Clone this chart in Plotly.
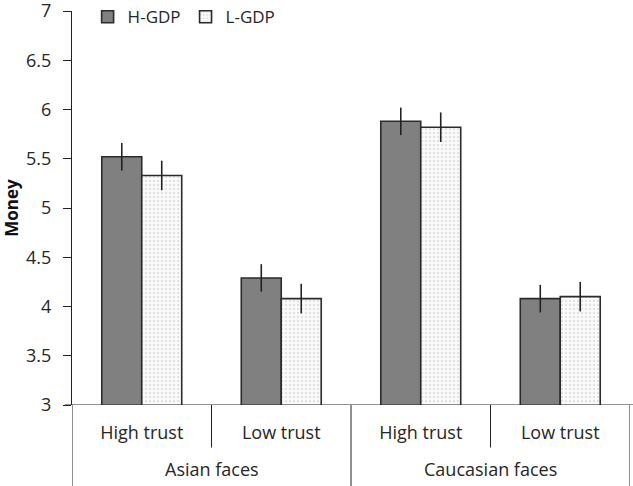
import plotly.graph_objects as go

faces = ["Asian faces", "Caucasian faces"]
trust = ["High trust", "Low trust", "High trust", "Low trust"]
h_gdp = [5.52, 4.29, 5.88, 4.08]
h_err = [0.14, 0.14, 0.14, 0.14]
l_gdp = [5.33, 4.08, 5.82, 4.10]
l_err = [0.15, 0.15, 0.15, 0.15]
y_ticks = [3, 3.5, 4, 4.5, 5, 5.5, 6, 6.5, 7]

xpos = list(range(len(trust)))
FONT = "Open Sans"
FS = 18
EDGE = "#2b2b2b"
TXT = "#262626"

fig = go.Figure()
fig.add_trace(go.Bar(
    name="H-GDP", x=xpos, y=h_gdp,
    marker=dict(color="#808080", line=dict(color=EDGE, width=1.6)),
    error_y=dict(type="data", array=h_err, color="#222222", thickness=1.6, width=0),
))
fig.add_trace(go.Bar(
    name="L-GDP", x=xpos, y=l_gdp,
    marker=dict(color="#ffffff", line=dict(color=EDGE, width=1.6),
                pattern=dict(shape=".", fgcolor="#c8c8c8", bgcolor="#fbfbfb", size=4, solidity=0.3)),
    error_y=dict(type="data", array=l_err, color="#222222", thickness=1.6, width=0),
))

shapes = []
for k in range(len(trust) + 1):
    outer = (k % 2 == 0)
    shapes.append(dict(type="line", xref="x", yref="paper",
                       x0=k - 0.5, x1=k - 0.5, y0=0, y1=-0.21 if outer else -0.108,
                       line=dict(color="#222222", width=1)))
shapes.append(dict(type="line", xref="paper", yref="y", x0=-0.013, x1=1.01, y0=3, y1=3,
                   line=dict(color="#222222", width=1)))

annotations = []
for i, f in enumerate(faces):
    annotations.append(dict(x=2 * i + 0.5, y=-0.1616, xref="x", yref="paper", text=f,
                            yanchor="middle", showarrow=False,
                            font=dict(family=FONT, size=FS, color=TXT)))

fig.update_layout(
    width=633, height=486,
    margin=dict(l=72, r=3, t=11, b=81, autoexpand=False),
    paper_bgcolor="white", plot_bgcolor="white",
    barmode="group", bargap=0.427, bargroupgap=0,
    font=dict(family=FONT, size=FS, color=TXT),
    showlegend=True,
    legend=dict(orientation="h", x=0.028, y=1.03, xanchor="left", yanchor="top",
                font=dict(family=FONT, size=17, color=TXT), bgcolor="rgba(0,0,0,0)",
                itemwidth=30, traceorder="normal", tracegroupgap=0),
    shapes=shapes, annotations=annotations,
)
fig.update_xaxes(range=[-0.5, len(trust) - 0.5], tickvals=xpos, ticktext=trust,
                 ticks="", showline=False, showgrid=False, zeroline=False, automargin=False,
                 tickfont=dict(family=FONT, size=FS, color=TXT), ticklabelstandoff=15)
fig.update_yaxes(range=[3, 7], tickvals=y_ticks, ticktext=[f"{v:g}" for v in y_ticks],
                 ticks="outside", ticklen=8, tickcolor="#222", showline=True, linecolor="#222",
                 linewidth=1, showgrid=False, zeroline=False, automargin=False,
                 ticklabeloverflow="allow",
                 tickfont=dict(family=FONT, size=FS, color=TXT), ticklabelstandoff=8,
                 title=dict(text="<b>Money</b>", font=dict(family=FONT, size=17, color="#111"), standoff=12))

fig.write_html("out.html", config={"displayModeBar": False},
               post_script="document.body.style.margin='0';")
